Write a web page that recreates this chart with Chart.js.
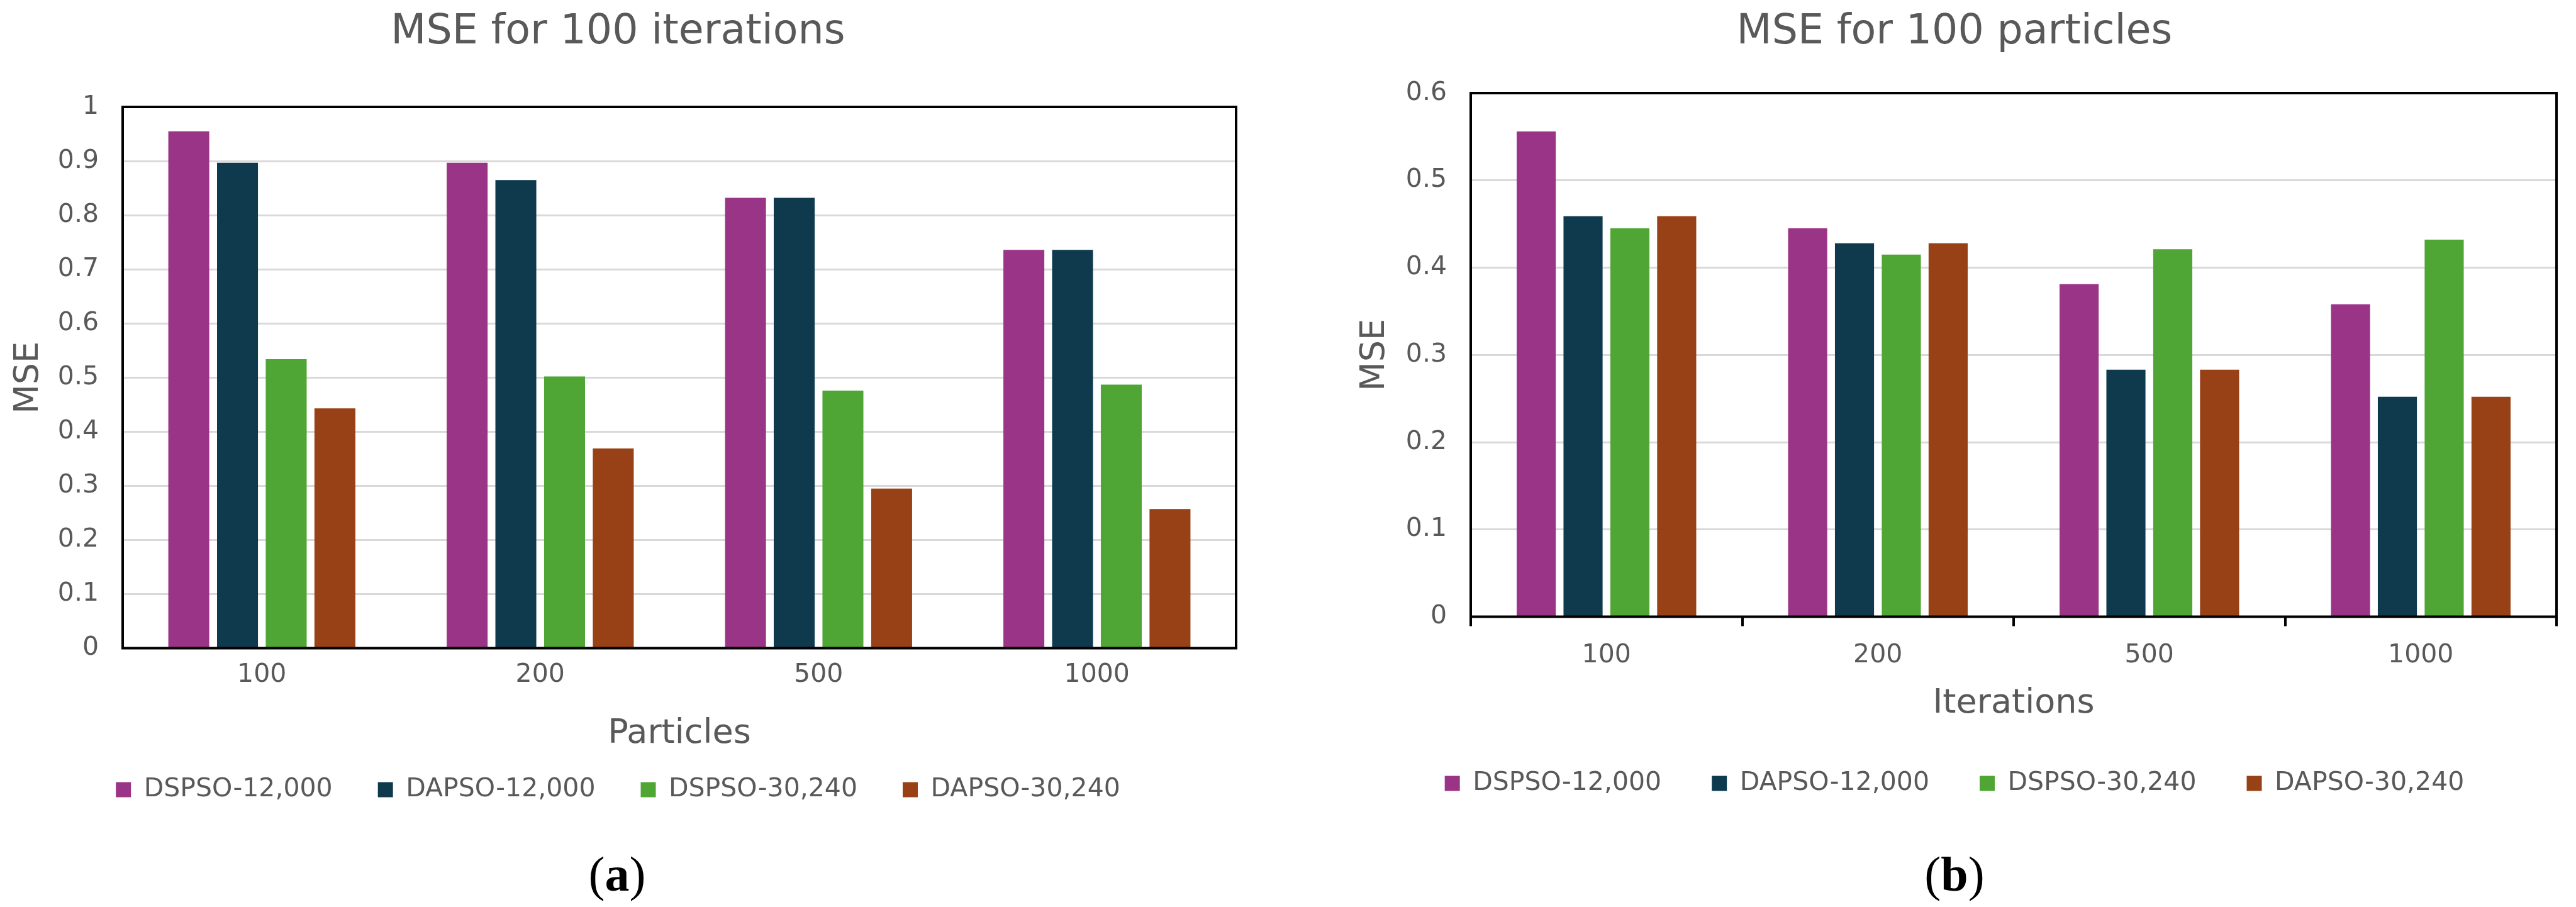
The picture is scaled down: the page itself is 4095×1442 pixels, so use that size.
<!DOCTYPE html>
<html>
<head>
<meta charset="utf-8">
<script src="https://cdn.jsdelivr.net/npm/chart.js@4"></script>
<style>
  body { margin: 0; background: #fff; width: 4095px; height: 1442px; position: relative; overflow: hidden; }
  canvas { position: absolute; top: 0; }
  #chartA { left: 0; }
  #chartB { left: 2150px; }
  .caption { position: absolute; top: 1340px; width: 300px; margin-left: -150px; text-align: center;
             font-family: "Liberation Serif", serif; font-size: 78px; color: #000; line-height: 100px; }
</style>
</head>
<body>
<canvas id="chartA" width="1980" height="1286"></canvas>
<canvas id="chartB" width="1930" height="1276"></canvas>
<div class="caption" style="left:981px">(<b>a</b>)</div>
<div class="caption" style="left:3107px">(<b>b</b>)</div>
<script>
// x categories
var particles = ["100", "200", "500", "1000"];
var iterations = ["100", "200", "500", "1000"];
var seriesNames = ["DSPSO-12,000", "DAPSO-12,000", "DSPSO-30,240", "DAPSO-30,240"];

// (a) MSE for 100 iterations
var dspso12kA = [0.955, 0.897, 0.832, 0.736];
var dapso12kA = [0.897, 0.865, 0.832, 0.736];
var dspso30kA = [0.534, 0.502, 0.476, 0.487];
var dapso30kA = [0.443, 0.369, 0.295, 0.257];

// (b) MSE for 100 particles
var dspso12kB = [0.556, 0.445, 0.381, 0.358];
var dapso12kB = [0.459, 0.428, 0.283, 0.252];
var dspso30kB = [0.445, 0.415, 0.421, 0.432];
var dapso30kB = [0.459, 0.428, 0.283, 0.252];

var colors = ["#9a3487", "#0f3a4e", "#4fa634", "#984016"];
var grey = "#595959";
var fontFamily = "'DejaVu Sans', Verdana, sans-serif";

var frame = {
  id: "frame",
  afterDatasetsDraw: function (chart) {
    var a = chart.chartArea, ctx = chart.ctx;
    ctx.save();
    ctx.strokeStyle = "#000";
    ctx.lineWidth = 4;
    ctx.strokeRect(a.left, a.top, a.right - a.left, a.bottom - a.top);
    ctx.restore();
  }
};

function makeSets(values, catPct, barPct) {
  return values.map(function (v, i) {
    return {
      label: seriesNames[i],
      data: v,
      backgroundColor: colors[i],
      borderWidth: 0,
      categoryPercentage: catPct,
      barPercentage: barPct
    };
  });
}

function makeChart(id, cfg) {
  return new Chart(document.getElementById(id), {
    type: "bar",
    data: { labels: cfg.labels, datasets: makeSets(cfg.values, cfg.catPct, cfg.barPct) },
    plugins: [frame],
    options: {
      responsive: false,
      devicePixelRatio: 1,
      animation: false,
      layout: { padding: { left: 0, right: cfg.padRight, top: 0, bottom: 0 } },
      plugins: {
        title: {
          display: true,
          text: cfg.title,
          color: grey,
          font: { family: fontFamily, size: 65, weight: "normal" },
          padding: { top: 13, bottom: cfg.titleGap }
        },
        legend: {
          position: "bottom",
          labels: {
            boxWidth: 24,
            boxHeight: 24,
            padding: cfg.legendPad,
            color: grey,
            font: { family: fontFamily, size: 41 }
          }
        },
        tooltip: { enabled: false }
      },
      scales: {
        x: {
          grid: {
            display: cfg.xTicks,
            drawOnChartArea: false,
            drawTicks: cfg.xTicks,
            tickLength: 15,
            tickColor: "#000",
            lineWidth: 4
          },
          border: { display: false },
          ticks: { color: grey, padding: cfg.xTickPad, font: { family: fontFamily, size: 41 } },
          title: {
            display: true,
            text: cfg.xTitle,
            color: grey,
            font: { family: fontFamily, size: 54 },
            padding: { top: 0, bottom: cfg.xTitleBottom }
          },
          afterFit: function (scale) { scale.height = cfg.xHeight; }
        },
        y: {
          min: 0,
          max: cfg.yMax,
          grid: { color: "#d9d9d9", lineWidth: 3, drawTicks: false },
          border: { display: false },
          ticks: {
            stepSize: 0.1,
            color: grey,
            padding: 38,
            font: { family: fontFamily, size: 41 },
            callback: function (v) { return String(Math.round(v * 10) / 10); }
          },
          title: {
            display: true,
            text: "MSE",
            color: grey,
            font: { family: fontFamily, size: 54 },
            padding: { top: cfg.yTitlePad, bottom: 0 }
          },
          afterFit: function (scale) { scale.width = cfg.yWidth; }
        }
      }
    }
  });
}

makeChart("chartA", {
  labels: particles,
  values: [dspso12kA, dapso12kA, dspso30kA, dapso30kA],
  title: "MSE for 100 iterations",
  xTitle: "Particles",
  yMax: 1,
  catPct: 0.70,
  barPct: 0.84,
  padRight: 15,
  titleGap: 79,
  legendPad: 72,
  xTicks: false,
  xTickPad: 18,
  xHeight: 132.5,
  xTitleBottom: -35.9,
  yWidth: 195,
  yTitlePad: 13.6
});

makeChart("chartB", {
  labels: iterations,
  values: [dspso12kB, dapso12kB, dspso30kB, dapso30kB],
  title: "MSE for 100 particles",
  xTitle: "Iterations",
  yMax: 0.6,
  catPct: 0.69,
  barPct: 0.835,
  padRight: 16,
  titleGap: 57,
  legendPad: 80,
  xTicks: true,
  xTickPad: 22,
  xHeight: 164.5,
  xTitleBottom: -5.9,
  yWidth: 188,
  yTitlePad: 3.6
});
</script>
</body>
</html>
